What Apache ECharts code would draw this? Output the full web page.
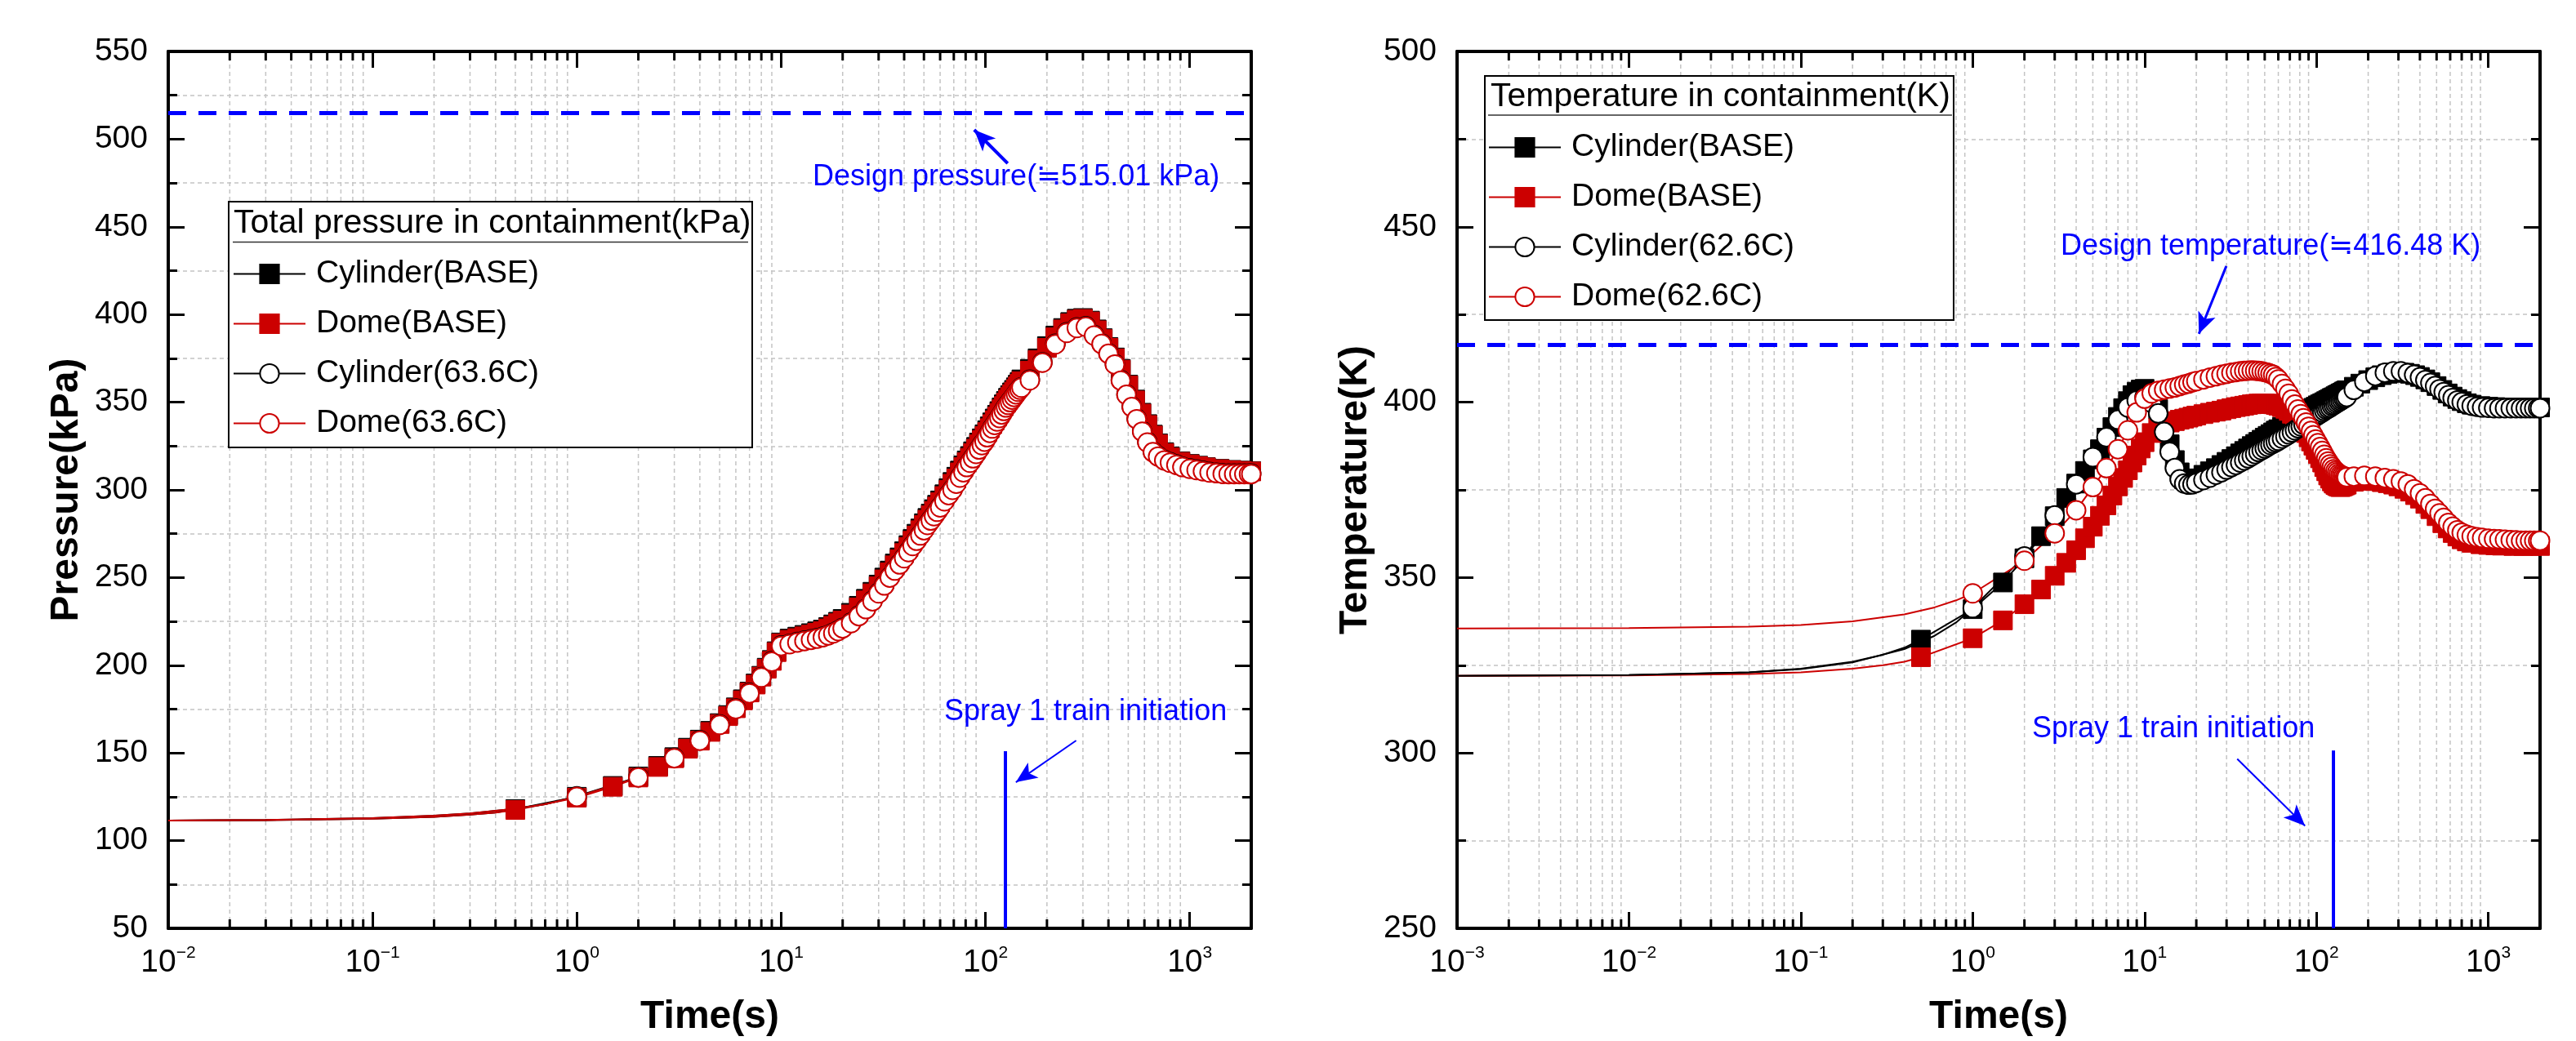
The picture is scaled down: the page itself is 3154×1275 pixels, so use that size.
<!DOCTYPE html>
<html>
<head>
<meta charset="utf-8">
<script src="https://cdn.jsdelivr.net/npm/echarts@6/dist/echarts.min.js"></script>
<style>html,body{margin:0;padding:0;background:#fff;}#c{width:3154px;height:1275px;}</style>
</head>
<body>
<div id="c"></div>
<script>
// ---------------- DATA ----------------
// time grids (s)
const tBase = [0.5,1,1.5,2,2.5,3,3.5,4,4.5,5,5.5,6,6.5,7,7.5,8,8.5,9,9.5,10,
  11,12,13,14,15,16,17,18,19,20,
  22,24,26,28,30,32,34,36,38,40,42,44,46,48,50,52,54,56,58,60,
  63,66,69,72,75,78,81,84,87,90,93,96,99,102,105,108,111,114,117,120,123,126,129,132,135,138,141,144,147,150,
  165,180,200,220,240,260,280,300,325,350,375,400,430,460,500,540,580,620,660,700,750,800,
  900,1000,1100,1200,1400,1600,1800,2000];
const tCase = [1,2,3,4,5,6,7,8,9,10,
  11,12,13,14,15,16,17,18,19,20,
  22,24,26,28,30,32,34,36,38,40,42,44,46,48,50,52,54,56,58,60,
  63,66,69,72,75,78,81,84,87,90,93,96,99,102,105,108,111,114,117,120,123,126,129,132,135,138,141,144,147,150,
  165,190,220,250,280,310,340,370,400,430,460,490,520,550,585,620,660,700,750,800,
  860,920,1000,1080,1160,1250,1350,1450,1550,1650,1750,1850,1950,2000];

// early line portions (before first marker)
const leadTimeLBase = [0.01,0.03,0.1,0.2,0.3,0.4];
const leadTimeLCase = [0.01,0.03,0.1,0.2,0.3,0.5,0.7];
const leadPBase = [111.5,111.7,112.5,113.6,114.8,116];
const leadPCase = [111.5,111.8,112.8,114.2,115.5,118.2,120.8];
const leadTimeRBase = [0.001,0.01,0.05,0.1,0.2,0.3,0.4];
const leadTimeRCase = [0.001,0.01,0.05,0.1,0.2,0.4,0.6,0.8];
const leadTCylBase = [322,322.2,323,324,326,328,330];
const leadTDomeBase = [322,322.1,322.5,323,324,325,326];
const leadTCylCase = [322,322.2,323,323.9,325.8,329.6,333.4,337.2];
const leadTDomeCase = [335.5,335.6,336,336.5,337.5,339.5,341.5,343.5];

// pressure (kPa)
const pCylBase = [118,125,131.2,136.6,142.6,147.6,153,157.6,162.6,167,171.6,176,180.6,185,189.6,194,198.6,203,208,213,
  215.2,216.3,217.3,218.3,219.3,220.3,221.8,223.3,224.8,226.4,
  229.9,233.9,237.9,241.9,246,250,254,258,261.5,265,268.5,272,275,278,281,284,286.5,289,291.5,294,
  297.5,301,304.5,307.5,311,314,316.8,319.3,322,324.5,327,329.4,331.7,334,336.2,338.5,340.7,342.8,344.9,347,348.8,350.7,352.5,354,355.6,357,358.5,360,361.5,363,
  369,375,382,388,392.3,395.7,397.6,398,396.5,391.5,386.5,381.5,375.5,369,360,351.5,344,337.5,331.5,326.5,321.5,319,
  316.3,314.8,313.8,313,312,311.4,311,310.7];
const pDomeBase = [117.5,124.5,130.7,136,142,147,152.4,157,162,166.5,171,175.5,180,184.5,189,193.5,198,202.5,207.5,212.5,
  214.5,215.5,216.5,217.5,218.5,219.5,221,222.5,224,225.5,
  229,233,237,241,245,249,253,257,260.5,264,267.5,271,274,277,280,283,285.5,288,290.5,293,
  296.5,300,303.5,306.5,310,313,315.8,318.3,321,323.5,326,328.4,330.7,333,335.2,337.5,339.7,341.8,343.9,346,347.8,349.7,351.5,353,354.6,356,357.5,359,360.5,362,
  368,374,381,387,391.5,395,397,397.5,396,391,386,381,375,368.5,359.5,351,343.5,337,331,326,321,318.5,
  316,314.5,313.5,312.8,311.8,311.2,310.8,310.5];
const pCylCase = [125.3,136.3,147.3,157.3,166.3,175.3,184.3,193.3,202.3,211.3,
  212.3,213.3,214.1,214.8,215.5,216.3,217.3,218.5,219.8,221.3,
  224.3,228.3,232.3,236.8,241.3,245.8,250.3,254.3,257.8,261.3,264.8,268.3,271.3,274.3,277.3,280.3,282.8,285.3,287.8,290.3,
  293.8,297.3,300.3,303.8,307.3,310.3,313.3,315.8,318.3,320.8,323.3,325.8,327.8,330.3,332.8,335.3,337.3,339.3,341.3,343.3,345.3,347.3,348.8,350.3,351.8,353.3,354.8,356.3,357.5,358.6,
  362.8,372.8,383.3,389.8,392.6,393.3,388.3,383.5,377.9,371.8,362.6,354.5,347.5,340.6,333.5,327.3,321.8,319.3,317.1,315.8,
  314.5,313.3,312.3,311.6,310.9,310.2,309.8,309.4,309.3,309.3,309.3,309.3,309.3,309.3];
const pDomeCase = [125,136,147,157,166,175,184,193,202,211,
  212,213,213.8,214.5,215.2,216,217,218.2,219.5,221,
  224,228,232,236.5,241,245.5,250,254,257.5,261,264.5,268,271,274,277,280,282.5,285,287.5,290,
  293.5,297,300,303.5,307,310,313,315.5,318,320.5,323,325.5,327.5,330,332.5,335,337,339,341,343,345,347,348.5,350,351.5,353,354.5,356,357.2,358.3,
  362.5,372.5,383,389.5,392.3,393,388,383.2,377.6,371.5,362.3,354.2,347.2,340.3,333.2,327,321.5,319,316.8,315.5,
  314.2,313,312,311.3,310.6,309.9,309.5,309.1,309,309,309,309,309,309];

// temperature (K)
const tempCylBase = [332.3,341,348.6,355.5,361.8,367.5,372.7,376.8,380.4,383.7,386.6,389.9,392.9,395.8,398.3,400.3,402,403,403.6,403.8,
  402,398,393,388,383.5,380,378,377.5,377.8,378.3,
  379.3,380.3,381.2,382.1,383,383.8,384.6,385.4,386.1,386.8,387.5,388.1,388.7,389.3,389.9,390.4,390.9,391.4,391.9,392.3,
  393,393.6,394.2,394.7,395.3,395.8,396.3,396.7,397.2,397.6,398,398.4,398.7,399.1,399.4,399.7,400,400.3,400.6,400.9,401.2,401.4,401.7,402,402.2,402.5,402.7,403,403.2,403.4,
  404.4,405.3,406.3,407.1,407.7,408.1,408.4,408.5,408.4,408.1,407.7,407.2,406.5,405.7,404.6,403.5,402.5,401.6,400.9,400.3,399.7,399.3,
  398.9,398.7,398.6,398.5,398.5,398.5,398.5,398.5];
const tempDomeBase = [327.3,332.7,337.8,342.4,346.6,350.5,354.2,357.8,361.2,364.5,367.6,370.6,373.4,376,378.4,380.6,382.8,384.8,386.8,388.6,
  391.2,392.8,393.7,394.2,394.6,395,395.3,395.6,395.9,396.2,
  396.6,397,397.3,397.6,398,398.3,398.6,398.8,399,399.2,399.4,399.5,399.6,399.6,399.6,399.6,399.5,399.4,399.2,399,
  398.6,398.1,397.5,396.7,395.5,394.5,393.4,392.4,391.2,390,388.8,387.6,386.4,385.2,384,382.8,381.5,380.3,379.1,378.2,377.4,376.8,376.4,376.1,375.9,375.8,375.9,376.1,376.3,376.5,
  377.3,377.6,377.6,377.5,377.2,376.9,376.5,376,375.3,374.5,373.5,372.5,371,369.5,367.5,365.5,364,362.7,361.7,360.9,360.3,359.9,
  359.5,359.3,359.2,359.1,359,359,359,359];
const tempCylCase = [341.3,356,367.7,376.6,384.3,390,395,398.5,400.5,401.5,
  399.8,396.8,391.5,385.8,381.2,378,376.8,376.5,376.6,377,
  377.8,378.5,379.3,380,380.8,381.5,382.1,382.8,383.4,384,384.6,385.2,385.8,386.3,386.8,387.3,387.8,388.2,388.6,389,
  389.6,390.2,390.8,391.4,392,392.6,393.1,393.6,394.1,394.6,395.1,395.5,395.9,396.3,396.7,397.1,397.5,397.9,398.2,398.5,398.9,399.2,399.5,399.8,400.1,400.4,400.7,401,401.2,401.5,
  403.5,405.8,407.5,408.4,408.8,408.8,408.3,407.8,407.1,406.3,405.5,404.6,403.7,402.9,402,401.2,400.5,400,399.4,399,
  398.7,398.5,398.4,398.3,398.3,398.3,398.3,398.3,398.3,398.3,398.3,398.3,398.3,398.3];
const tempDomeCase = [345.5,354.8,362.6,369.2,375.8,381.2,386.6,392,397.1,401,
  402.5,403.2,403.6,403.9,404.2,404.6,405,405.3,405.7,406,
  406.5,407,407.4,407.8,408.1,408.4,408.6,408.8,408.9,409,409.05,409,408.9,408.8,408.6,408.4,408.1,407.8,407.2,406.5,
  405.2,403.8,402.4,400.8,399.3,397.9,396.6,395.4,394.2,393,391.8,390.6,389.4,388.3,387.2,386.1,385,384,383.1,382.3,381.6,380.9,380.4,380,379.6,379.3,379.1,378.9,378.7,378.6,
  378.8,379,378.8,378.4,378,377.4,376.6,375.2,374,372.6,371,369.6,368.3,367,365.6,364.5,363.5,362.8,362.2,361.8,
  361.5,361.3,361.1,361,360.9,360.8,360.7,360.6,360.5,360.5,360.5,360.5,360.5,360.5];

// reference values / annotations
const designP = 515.01;
const designT = 416.48;
const sprayTime = 125;
const sprayTopP = 151;
const sprayTopT = 300.7;
const arrowDesignP = [[128.5, 486.2], [88.1, 505.3]];
const arrowSprayL = [[278, 157.1], [140.9, 133.3]];
const arrowDesignT = [[29.9, 438.8], [20.7, 419.5]];
const arrowSprayR = [[34.6, 298.3], [85.8, 279.2]];

// minor tick positions of the log time axes
const minorTicksL = [0.02,0.03,0.04,0.05,0.06,0.07,0.08,0.09,
  0.2,0.3,0.4,0.5,0.6,0.7,0.8,0.9, 2,3,4,5,6,7,8,9,
  20,30,40,50,60,70,80,90, 200,300,400,500,600,700,800,900];
const minorTicksR = [0.002,0.003,0.004,0.005,0.006,0.007,0.008,0.009].concat(minorTicksL);

const namesL = ['Cylinder(BASE)','Dome(BASE)','Cylinder(63.6C)','Dome(63.6C)'];
const namesR = ['Cylinder(BASE)','Dome(BASE)','Cylinder(62.6C)','Dome(62.6C)'];

// ---------------- STYLE / BUILD ----------------
const FONT = '"Liberation Sans", Arial, "Noto Sans CJK KR", sans-serif';
const RED = '#cc0000', BLK = '#000000', BLUE = '#0000ff', GRIDC = '#c4c4c4';
const G = [{left:206, top:63, width:1326, height:1074}, {left:1784, top:63, width:1326, height:1074}];

function powLabel(v){
  const l = Math.log10(v), e = Math.round(l);
  if (Math.abs(l - e) > 1e-6) return '';
  return '{b|10}{s|' + (e < 0 ? '\u2212' + (-e) : String(e)) + '}';
}

function xAx(gi, pos, min, max, labels){
  return {
    type:'log', logBase:10, gridIndex:gi, position:pos, min:min, max:max,
    name: labels ? 'Time(s)' : '', nameLocation:'middle', nameGap:85,
    nameTextStyle:{fontSize:48, fontWeight:'bold', fontFamily:FONT, color:'#000'},
    axisLine:{show:true, onZero:false, lineStyle:{color:'#000', width:4}},
    axisTick:{show:true, inside:true, length:20, lineStyle:{color:'#000', width:3}},
    minorTick:{show:false}, splitLine:{show:false}, minorSplitLine:{show:false},
    axisLabel:{show:labels, margin:20, formatter:powLabel,
      rich:{b:{fontSize:39, lineHeight:44, fontFamily:FONT, color:'#000'},
            s:{fontSize:21, lineHeight:34, verticalAlign:'top', fontFamily:FONT, color:'#000'}}}
  };
}
function yAx(gi, pos, min, max, labels, name){
  return {
    type:'value', gridIndex:gi, position:pos, min:min, max:max, interval:50,
    name: labels ? name : '', nameLocation:'middle', nameGap:100, nameRotate:90,
    nameTextStyle:{fontSize:48, fontWeight:'bold', fontFamily:FONT, color:'#000'},
    axisLine:{show:true, onZero:false, lineStyle:{color:'#000', width:4}},
    axisTick:{show:true, inside:true, length:20, lineStyle:{color:'#000', width:3}},
    minorTick:{show:true, splitNumber:2, length:11, lineStyle:{color:'#000', width:3}},
    splitLine:{show:false},
    minorSplitLine:{show:labels, lineStyle:{color:GRIDC, width:1.5, type:[5,4]}},
    axisLabel:{show:labels, margin:25, fontSize:39, fontFamily:FONT, color:'#000'}
  };
}

function mkSeries(name, ts, vs, leadTs, leadVs, color, filled, axi){
  const data = leadTs.map((t,i)=>({value:[t, leadVs[i]], symbol:'none'}))
    .concat(ts.map((t,i)=>[t, vs[i]]));
  return {
    name:name, type:'line', xAxisIndex:axi, yAxisIndex:axi, data:data,
    symbol: filled ? 'rect' : 'circle', symbolSize:23, showAllSymbol:true,
    lineStyle:{color:color, width:2},
    itemStyle: filled ? {color:color, borderColor:color, borderWidth:1}
                      : {color:'#ffffff', borderColor:color, borderWidth:2},
    emphasis:{disabled:true}, silent:true, z:2
  };
}

function minorSeries(ticks, axi, ymin, ymax){
  return {
    type:'custom', xAxisIndex:axi, yAxisIndex:axi, silent:true, z:1, clip:false,
    data: ticks.map(v=>[v, ymin]), encode:{x:0, y:1},
    renderItem:function(params, api){
      const v = api.value(0);
      const b = api.coord([v, ymin]), t = api.coord([v, ymax]);
      return {type:'group', children:[
        {type:'line', shape:{x1:b[0], y1:b[1], x2:t[0], y2:t[1]}, style:{stroke:GRIDC, lineWidth:1.5, lineDash:[5,4]}},
        {type:'line', shape:{x1:b[0], y1:b[1], x2:b[0], y2:b[1]-11}, style:{stroke:'#000', lineWidth:3}},
        {type:'line', shape:{x1:t[0], y1:t[1], x2:t[0], y2:t[1]+11}, style:{stroke:'#000', lineWidth:3}}
      ]};
    }
  };
}

function annotLines(designVal, yMin, sprayTop, arrowDesign, arrowSpray, designArrowW){
  const aSym = {symbol:'arrow', symbolSize:[17,26]};
  return {
    silent:true, animation:false, symbol:['none','none'], label:{show:false}, emphasis:{disabled:true},
    data:[
      {yAxis:designVal, lineStyle:{color:BLUE, width:5, type:[22,15]}},
      [{coord:[sprayTime, yMin], lineStyle:{color:BLUE, width:4, type:'solid'}}, {coord:[sprayTime, sprayTop]}],
      [{coord:arrowDesign[0], lineStyle:{color:BLUE, width:designArrowW, type:'solid'}},
       Object.assign({coord:arrowDesign[1]}, aSym)],
      [{coord:arrowSpray[0], lineStyle:{color:BLUE, width:2, type:'solid'}},
       Object.assign({coord:arrowSpray[1]}, aSym)]
    ]
  };
}

const sL = [
  mkSeries(namesL[0], tBase, pCylBase, leadTimeLBase, leadPBase, BLK, true, 0),
  mkSeries(namesL[1], tBase, pDomeBase, leadTimeLBase, leadPBase, RED, true, 0),
  mkSeries(namesL[2], tCase, pCylCase, leadTimeLCase, leadPCase, BLK, false, 0),
  mkSeries(namesL[3], tCase, pDomeCase, leadTimeLCase, leadPCase, RED, false, 0)
];
sL[0].markLine = annotLines(designP, 50, sprayTopP, arrowDesignP, arrowSprayL, 4);
const sR = [
  mkSeries(namesR[0], tBase, tempCylBase, leadTimeRBase, leadTCylBase, BLK, true, 2),
  mkSeries(namesR[1], tBase, tempDomeBase, leadTimeRBase, leadTDomeBase, RED, true, 2),
  mkSeries(namesR[2], tCase, tempCylCase, leadTimeRCase, leadTCylCase, BLK, false, 2),
  mkSeries(namesR[3], tCase, tempDomeCase, leadTimeRCase, leadTDomeCase, RED, false, 2)
];
sR[0].markLine = annotLines(designT, 250, sprayTopT, arrowDesignT, arrowSprayR, 3);

function legendAt(left, top, names){
  return {
    show:true, orient:'vertical', left:left, top:top, padding:0, itemGap:22,
    itemWidth:88, itemHeight:29, selectedMode:false, z:30, data:names,
    textStyle:{fontSize:39, fontFamily:FONT, color:'#000', padding:[0,0,0,8]}
  };
}
function txt(x, y, s, size, color){
  return {type:'text', x:x, y:y, z:20,
    style:{text:s, fontSize:size, fontFamily:FONT, fill:color,
      textAlign:'left', align:'left', textVerticalAlign:'middle', verticalAlign:'middle'}};
}

const option = {
  animation:false,
  backgroundColor:'#ffffff',
  grid:G,
  xAxis:[xAx(0,'bottom',0.01,2000,true), xAx(0,'top',0.01,2000,false),
         xAx(1,'bottom',0.001,2000,true), xAx(1,'top',0.001,2000,false)],
  yAxis:[yAx(0,'left',50,550,true,'Pressure(kPa)'), yAx(0,'right',50,550,false,''),
         yAx(1,'left',250,500,true,'Temperature(K)'), yAx(1,'right',250,500,false,'')],
  legend:[legendAt(285, 316, namesL), legendAt(1822, 161, namesR)],
  series: [minorSeries(minorTicksL, 0, 50, 550), minorSeries(minorTicksR, 2, 250, 500)].concat(sL, sR),
  graphic:[
    {type:'rect', z:10, shape:{x:280, y:247, width:641, height:301}, style:{fill:'#fff', stroke:'#000', lineWidth:2}},
    {type:'line', z:11, shape:{x1:285, y1:296.5, x2:916, y2:296.5}, style:{stroke:'#333', lineWidth:1.5}},
    txt(286, 274, 'Total pressure in containment(kPa)', 41, '#000'),
    {type:'rect', z:10, shape:{x:1818, y:93, width:574, height:299}, style:{fill:'#fff', stroke:'#000', lineWidth:2}},
    {type:'line', z:11, shape:{x1:1822, y1:141, x2:2390, y2:141}, style:{stroke:'#333', lineWidth:1.5}},
    txt(1825, 119, 'Temperature in containment(K)', 41, '#000'),
    txt(995, 217, 'Design pressure(\u2252515.01 kPa)', 36, BLUE),
    txt(1156, 872, 'Spray 1 train initiation', 36, BLUE),
    txt(2523, 302, 'Design temperature(\u2252416.48 K)', 36, BLUE),
    txt(2488, 893, 'Spray 1 train initiation', 36, BLUE)
  ]
};
const chart = echarts.init(document.getElementById('c'), null, {renderer:'canvas'});
chart.setOption(option);
</script>
</body>
</html>
